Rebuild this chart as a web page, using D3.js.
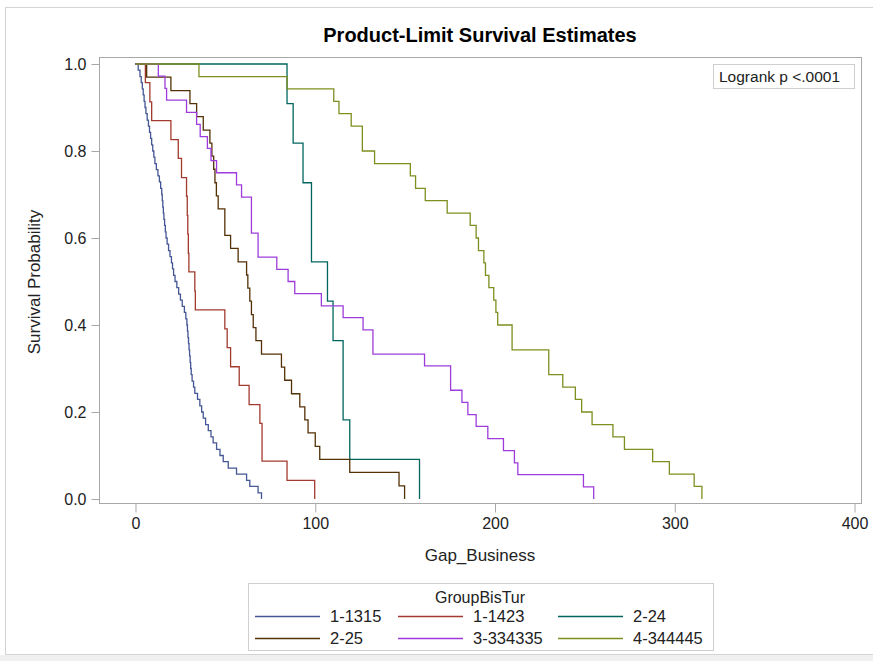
<!DOCTYPE html>
<html>
<head>
<meta charset="utf-8">
<script src="https://cdn.jsdelivr.net/npm/d3@7"></script>
<style>
  body { margin: 0; background: #fff; }
  text { font-family: "Liberation Sans", Arial, sans-serif; fill: #222; }
</style>
</head>
<body>
<div id="km"></div>
<script>
// groups / colours
const groups = ['1-1315', '1-1423', '2-24', '2-25', '3-334335', '4-344445']
const colors = ['#445694', '#A23A2E', '#01665E', '#543005', '#9D3CDB', '#7F8E1F']

// step times and survival estimates
const t1315 = [0, 1.5, 2.5, 3.2, 3.8, 4.3, 4.8, 5.3, 5.8, 6.5, 7.2, 7.8, 8.4, 9, 9.6, 10.2, 10.8, 11.6, 12.5, 13.3,
  14, 14.6, 14.9, 15.2, 15.5, 15.8, 16.2, 16.6, 17, 17.6, 18.4, 19.2, 20, 20.6, 21.2, 22, 23, 24, 25, 26,
  27.2, 28, 28.6, 28.9, 29.2, 29.5, 29.8, 30.1, 30.4, 30.7, 31, 31.5, 32.3, 33, 34.5, 35.8, 36.8, 37.7, 39, 40.5,
  42, 43.2, 45.1, 47, 48.8, 51.6, 56.2, 61.8, 63.6, 68.2, 70.1]
const s1315 = [1, .986, .971, .957, .943, .929, .914, .90, .886, .871, .857, .843, .829, .814, .80, .786, .771, .757, .743, .729,
  .714, .70, .686, .671, .657, .643, .629, .614, .60, .586, .571, .557, .543, .529, .514, .50, .486, .471, .457, .443,
  .429, .414, .40, .386, .371, .357, .343, .329, .314, .30, .286, .271, .257, .243, .229, .214, .20, .186, .171, .157,
  .143, .129, .114, .10, .086, .071, .057, .043, .029, .014, 0]

const t1423 = [0, 5.5, 8, 9, 19.7, 23.8, 25.6, 28.4, 28.8, 29.1, 29.4, 29.7, 33, 33.3, 49.7, 51, 52.9, 57.7, 63.2, 69.2, 70.4, 84.3, 99.7]
const s1423 = [1, .957, .913, .870, .826, .783, .739, .696, .652, .609, .565, .522, .478, .435, .391, .348, .304, .261, .217, .174, .087, .043, 0]

const t224 = [0, 84.3, 87.7, 93.2, 97.9, 106.8, 109.9, 115.5, 119.2, 158]
const s224 = [1, .909, .818, .727, .545, .455, .364, .182, .091, 0]

const t225 = [0, 6.2, 19.7, 30.3, 34, 37.7, 41.4, 42.5, 43.5, 44.2, 45, 46, 49.7, 52.9, 57.1, 61.8, 62.5, 63.6, 64.5, 65.5,
  67, 70.1, 81.2, 83, 86.8, 91.4, 94.2, 96, 100, 102.5, 119.2, 146.6, 149.7]
const s225 = [1, .970, .939, .909, .879, .848, .818, .788, .758, .727, .697, .667, .606, .576, .545, .515, .485, .455, .424, .394,
  .364, .333, .303, .273, .242, .212, .182, .152, .121, .091, .061, .030, 0]

const t334335 = [0, 12.7, 16.4, 17.3, 28.4, 34, 36, 40, 42, 45.1, 56.2, 59, 64.5, 68.2, 78.6, 84.9, 88.6, 103.4, 115.5, 126.6,
  132.1, 160.8, 175.3, 181.6, 184.9, 189.5, 196, 204.7, 210.8, 212.7, 249.2, 254.9]
const s334335 = [1, .972, .944, .917, .889, .861, .833, .806, .778, .75, .722, .694, .611, .556, .528, .5, .472, .444, .417, .389,
  .333, .306, .25, .222, .194, .167, .139, .111, .083, .056, .028, 0]

const t344445 = [0, 35.3, 84.3, 110.3, 113.2, 120, 126.2, 133, 152.9, 155.8, 161.2, 173.4, 186.2, 189.5, 190.8, 193.8, 194.7, 196.6, 199.3, 200.5,
  201.5, 209.5, 229.9, 237.7, 244.7, 248.2, 254, 265.6, 272, 287.7, 297, 310.8, 315.1]
const s344445 = [1, .971, .943, .914, .886, .857, .80, .771, .743, .714, .686, .657, .629, .60, .571, .543, .514, .486, .457, .429,
  .40, .343, .286, .257, .229, .20, .171, .143, .114, .086, .057, .029, 0]

const times = [t1315, t1423, t224, t225, t334335, t344445]
const surv = [s1315, s1423, s224, s225, s334335, s344445]

const xTicks = [0, 100, 200, 300, 400]
const yTicks = [0, 0.2, 0.4, 0.6, 0.8, 1.0]

let width = 873
let height = 661
let pLeft = 99, pRight = 861, pTop = 57, pBottom = 503

let xScale = d3.scaleLinear([-20.3, 403.6], [pLeft, pRight])
let yScale = d3.scaleLinear([0, 1], [499, 64])

let svg = d3.select('#km')
  .append('svg')
  .attr('width', width)
  .attr('height', height)

// outer border
svg.append('rect')
  .attr('x', 5.5).attr('y', 7.5)
  .attr('width', 870).attr('height', 647)
  .attr('fill', 'none').attr('stroke', '#d4d4d4')
svg.append('rect')
  .attr('x', 0).attr('y', 655)
  .attr('width', width).attr('height', 6)
  .attr('fill', '#f0f0f0')

// title
svg.append('text')
  .attr('x', 480).attr('y', 42)
  .attr('text-anchor', 'middle')
  .style('font-size', '20px').style('font-weight', 'bold')
  .style('fill', '#000')
  .text('Product-Limit Survival Estimates')

// plot frame
svg.append('rect')
  .attr('x', pLeft + 0.5).attr('y', pTop + 0.5)
  .attr('width', pRight - pLeft).attr('height', pBottom - pTop)
  .attr('fill', 'none').attr('stroke', '#a8a8a8')

// axes
let gx = svg.append('g')
  .attr('transform', `translate(0,${pBottom + 0.5})`)
  .call(d3.axisBottom(xScale).tickValues(xTicks).tickSize(9).tickPadding(5))
let gy = svg.append('g')
  .attr('transform', `translate(${pLeft + 0.5},0)`)
  .call(d3.axisLeft(yScale).tickValues(yTicks).tickFormat(d3.format('.1f')).tickSize(8).tickPadding(5))
;[gx, gy].forEach(g => {
  g.select('.domain').remove()
  g.selectAll('line').attr('stroke', '#a8a8a8')
  g.selectAll('text').style('font-size', '16px').style('fill', '#222').style('font-family', '"Liberation Sans", Arial, sans-serif')
})

svg.append('text')
  .attr('x', 480).attr('y', 561)
  .attr('text-anchor', 'middle')
  .style('font-size', '17px')
  .text('Gap_Business')
svg.append('text')
  .attr('transform', 'translate(40,282) rotate(-90)')
  .attr('text-anchor', 'middle')
  .style('font-size', '17px')
  .text('Survival Probability')

// curves
let line = d3.line()
  .x(d => xScale(d[0]))
  .y(d => yScale(d[1]))
  .curve(d3.curveStepAfter)

groups.forEach((gname, i) => {
  let pts = times[i].map((t, j) => [t, surv[i][j]])
  svg.append('path')
    .attr('d', line(pts))
    .attr('fill', 'none')
    .attr('stroke', colors[i])
    .attr('stroke-width', 1.3)
})

// logrank inset
svg.append('rect')
  .attr('x', 713.5).attr('y', 64.5)
  .attr('width', 141).attr('height', 24)
  .attr('fill', '#fff').attr('stroke', '#cfcfcf')
svg.append('text')
  .attr('x', 719).attr('y', 82)
  .style('font-size', '15.5px')
  .text('Logrank p <.0001')

// legend
let lg = svg.append('g')
lg.append('rect')
  .attr('x', 248.5).attr('y', 583.5)
  .attr('width', 465).attr('height', 67)
  .attr('fill', '#fff').attr('stroke', '#cfcfcf')
lg.append('text')
  .attr('x', 480).attr('y', 603)
  .attr('text-anchor', 'middle')
  .style('font-size', '16px')
  .text('GroupBisTur')
let colX = [255, 398, 558]
let rowY = [616, 638]
groups.forEach((gname, i) => {
  let cx = colX[i % 3]
  let cy = rowY[Math.floor(i / 3)]
  lg.append('line')
    .attr('x1', cx).attr('x2', cx + 65)
    .attr('y1', cy + 0.5).attr('y2', cy + 0.5)
    .attr('stroke', colors[i]).attr('stroke-width', 1.3)
  lg.append('text')
    .attr('x', cx + 75).attr('y', cy + 6)
    .style('font-size', '16.5px')
    .text(gname)
})
</script>
</body>
</html>
